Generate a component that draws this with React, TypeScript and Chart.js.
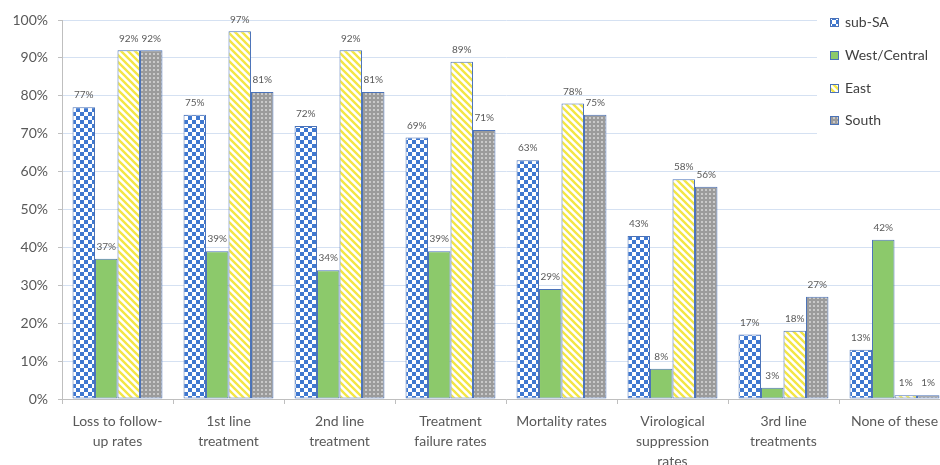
import React, { useEffect, useRef } from "react";
import { Chart, registerables } from "chart.js";

Chart.register(...registerables);

const categories: string[][] = [
  ["Loss to follow-", "up rates"],
  ["1st line", "treatment"],
  ["2nd line", "treatment"],
  ["Treatment", "failure rates"],
  ["Mortality rates"],
  ["Virological", "suppression", "rates"],
  ["3rd line", "treatments"],
  ["None of these"],
];

const seriesNames = ["sub-SA", "West/Central", "East", "South"];

const subSA = [77, 75, 72, 69, 63, 43, 17, 13];
const westCentral = [37, 39, 34, 39, 29, 8, 3, 42];
const east = [92, 97, 92, 89, 78, 58, 18, 1];
const south = [92, 81, 81, 71, 75, 56, 27, 1];

const yTicks = [0, 10, 20, 30, 40, 50, 60, 70, 80, 90, 100];

const FONT = "Lato, 'Liberation Sans', sans-serif";

function makeTile(size: number, draw: (ctx: CanvasRenderingContext2D) => void) {
  const c = document.createElement("canvas");
  c.width = size;
  c.height = size;
  const ctx = c.getContext("2d")!;
  draw(ctx);
  return c;
}

function patterns(ctx: CanvasRenderingContext2D) {
  const checker = makeTile(8, (t) => {
    t.fillStyle = "#ffffff";
    t.fillRect(0, 0, 8, 8);
    t.fillStyle = "#3f78d0";
    t.fillRect(0, 0, 4, 4);
    t.fillRect(4, 4, 4, 4);
  });
  const stripes = makeTile(7, (t) => {
    t.fillStyle = "#ffffff";
    t.fillRect(0, 0, 7, 7);
    t.strokeStyle = "#f3e646";
    t.lineWidth = 2.4;
    t.beginPath();
    t.moveTo(-1, -1);
    t.lineTo(8, 8);
    t.moveTo(-8, -1);
    t.lineTo(1, 8);
    t.moveTo(6, -1);
    t.lineTo(15, 8);
    t.stroke();
  });
  const dots = makeTile(4, (t) => {
    t.fillStyle = "#9b9b9b";
    t.fillRect(0, 0, 4, 4);
    t.fillStyle = "#c9c9c9";
    t.fillRect(1, 1, 2, 2);
  });
  return [
    ctx.createPattern(checker, "repeat")!,
    "#8cc96b",
    ctx.createPattern(stripes, "repeat")!,
    ctx.createPattern(dots, "repeat")!,
  ];
}

const labelPlugin = {
  id: "valueLabels",
  afterDatasetsDraw(chart: any) {
    const ctx = chart.ctx;
    ctx.save();
    ctx.font = `10px ${FONT}`;
    ctx.fillStyle = "#595959";
    ctx.textAlign = "center";
    ctx.textBaseline = "middle";
    chart.data.datasets.forEach((ds: any, i: number) => {
      const meta = chart.getDatasetMeta(i);
      meta.data.forEach((el: any, j: number) => {
        ctx.fillText(ds.data[j] + "%", el.x, el.y - 12);
      });
    });
    ctx.restore();
  },
};

const legendPlugin = {
  id: "customLegend",
  afterDraw(chart: any) {
    const ctx = chart.ctx;
    ctx.save();
    ctx.fillStyle = "#ffffff";
    ctx.fillRect(817, 0, 143, 135);
    const ys = [22, 55, 88, 120];
    ctx.font = `14px ${FONT}`;
    ctx.textBaseline = "middle";
    ctx.textAlign = "left";
    chart.data.datasets.forEach((ds: any, i: number) => {
      const y = ys[i];
      ctx.fillStyle = ds.backgroundColor;
      ctx.fillRect(830, y - 4, 8, 8);
      ctx.strokeStyle = ds.borderColor;
      ctx.lineWidth = 1;
      ctx.strokeRect(830.5, y - 3.5, 8, 8);
      ctx.fillStyle = "#404040";
      ctx.fillText(ds.label, 845, y);
    });
    ctx.restore();
  },
};

function ChartView() {
  const ref = useRef<HTMLCanvasElement | null>(null);
  useEffect(() => {
    const canvas = ref.current!;
    const ctx = canvas.getContext("2d")!;
    const fills = patterns(ctx);
    const values = [subSA, westCentral, east, south];
    const chart = new Chart(canvas, {
      type: "bar",
      data: {
        labels: categories,
        datasets: values.map((v, i) => ({
          label: seriesNames[i],
          data: v,
          backgroundColor: fills[i] as any,
          borderColor: "#4a72b8",
          borderWidth: 1,
          borderSkipped: false,
          categoryPercentage: 0.81,
          barPercentage: 1,
        })),
      },
      options: {
        responsive: false,
        devicePixelRatio: 1,
        animation: false,
        layout: { padding: { top: 20, right: 10, left: 0, bottom: 0 } },
        plugins: {
          legend: { display: false },
          tooltip: { enabled: false },
        },
        scales: {
          y: {
            min: 0,
            max: 100,
            afterBuildTicks: (scale: any) => {
              scale.ticks = yTicks.map((v) => ({ value: v }));
            },
            afterFit: (scale: any) => {
              scale.width = 62;
            },
            ticks: {
              callback: (v: any) => v + "%",
              color: "#595959",
              font: { family: FONT, size: 14 },
              padding: 10,
            },
            grid: {
              color: "#d5e1f2",
              tickColor: "#bfbfbf",
              tickLength: 4,
            },
            border: { color: "#bfbfbf" },
          },
          x: {
            afterFit: (scale: any) => {
              scale.height = 66;
            },
            ticks: {
              color: "#595959",
              font: { family: FONT, size: 14, lineHeight: 1.45 },
              padding: 7,
              maxRotation: 0,
              autoSkip: false,
            },
            grid: {
              display: true,
              drawOnChartArea: false,
              tickColor: "#bfbfbf",
              tickLength: 5,
            },
            border: { color: "#bfbfbf" },
          },
        },
      },
      plugins: [labelPlugin, legendPlugin],
    });
    return () => chart.destroy();
  }, []);
  return <canvas ref={ref} width={960} height={465} style={{ display: "block" }} />;
}

export default function App() {
  return (
    <div
      style={{
        position: "fixed",
        left: 0,
        top: 0,
        width: 940,
        height: 465,
        overflow: "hidden",
        background: "#ffffff",
      }}
    >
      <ChartView />
    </div>
  );
}
